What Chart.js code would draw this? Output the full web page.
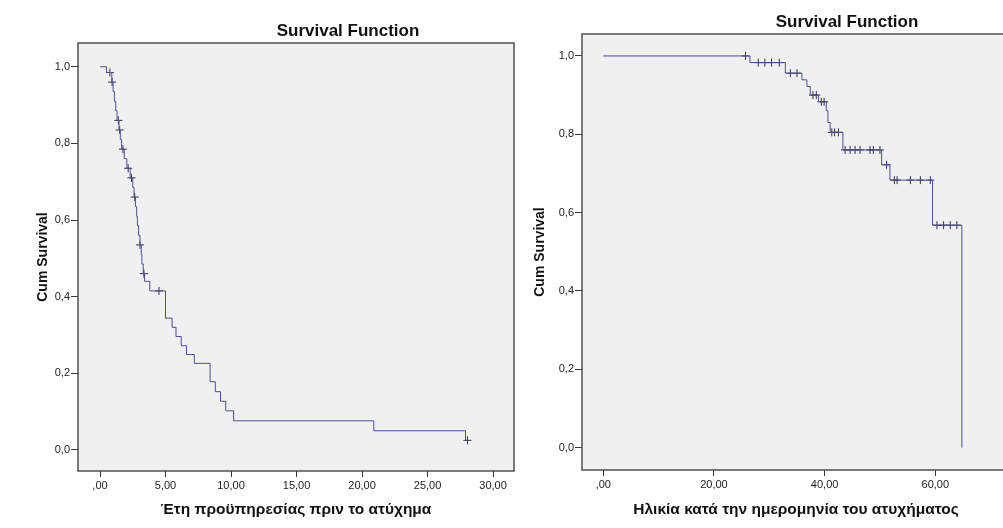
<!DOCTYPE html>
<html>
<head>
<meta charset="utf-8">
<title>Survival Function</title>
<script src="https://cdn.jsdelivr.net/npm/chart.js@4.4.1/dist/chart.umd.min.js"></script>
<style>
    html, body { margin: 0; padding: 0; background: #fff; overflow: hidden; }
    #wrap { position: relative; width: 1003px; height: 528px; overflow: hidden; }
    .box { position: absolute; top: 0; width: 540px; height: 528px; }
    #box-left { left: 0; }
    #box-right { left: 500px; }
</style>
</head>
<body>
<div id="wrap">
    <div class="box" id="box-left"><canvas id="chart-left"></canvas></div>
    <div class="box" id="box-right"><canvas id="chart-right"></canvas></div>
</div>
<script>
// left: years of service before the accident (event times + survival after each step)
const leftTimes = [0, 0.5, 0.9, 1.0, 1.1, 1.2, 1.3, 1.45, 1.55, 1.65, 1.85, 2.05, 2.3, 2.5, 2.6, 2.7, 2.8, 2.85, 2.95, 3.05,
                   3.15, 3.2, 3.3, 3.4, 3.8, 5.0, 5.5, 5.8, 6.2, 6.6, 7.2, 8.4, 8.8, 9.2, 9.6, 10.2, 20.9, 27.9, 28.05];
const leftSurv  = [1.0, 0.985, 0.96, 0.935, 0.91, 0.885, 0.86, 0.835, 0.81, 0.785, 0.76, 0.735, 0.71, 0.685, 0.66, 0.635, 0.61, 0.585, 0.56, 0.535,
                   0.51, 0.485, 0.46, 0.44, 0.415, 0.344, 0.32, 0.296, 0.272, 0.249, 0.226, 0.178, 0.152, 0.127, 0.102, 0.076, 0.05, 0.025, 0.025];
const leftCensorTimes = [0.75, 0.92, 1.4, 1.5, 1.75, 2.15, 2.4, 2.65, 3.05, 3.35, 4.5, 28.05];
const leftCensorSurv  = [0.985, 0.96, 0.86, 0.835, 0.785, 0.735, 0.71, 0.66, 0.535, 0.46, 0.415, 0.025];
const leftXTicks = [0, 5, 10, 15, 20, 25, 30];

// right: age at the date of the accident
const rightTimes = [0, 26.5, 32.9, 35.9, 36.8, 37.4, 38.9, 40.3, 40.6, 41.0, 43.3, 50.3, 51.8, 59.5, 64.8];
const rightSurv  = [1.0, 0.983, 0.956, 0.939, 0.922, 0.90, 0.883, 0.86, 0.83, 0.805, 0.76, 0.722, 0.683, 0.568, 0.0];
const rightCensorTimes = [25.7, 28.0, 29.2, 30.4, 31.8, 33.8, 35.0, 37.9, 38.5, 39.4, 39.9, 41.3, 41.8, 42.5,
                          43.7, 44.6, 45.5, 46.4, 48.2, 48.8, 50.0, 51.2, 52.6, 53.1, 55.5, 57.3, 59.1, 60.3, 61.5, 62.7, 63.9];
const rightCensorSurv  = [1.0, 0.983, 0.983, 0.983, 0.983, 0.956, 0.956, 0.90, 0.90, 0.883, 0.883, 0.805, 0.805, 0.805,
                          0.76, 0.76, 0.76, 0.76, 0.76, 0.76, 0.76, 0.722, 0.683, 0.683, 0.683, 0.683, 0.683, 0.568, 0.568, 0.568, 0.568];
const rightXTicks = [0, 20, 40, 60];

const yTicks = [0, 0.2, 0.4, 0.6, 0.8, 1.0];

const FONT = "'Liberation Sans', Arial, sans-serif";

// plot background, frame and the chart title
const framePlugin = {
    id: 'frame',
    beforeDraw(chart, args, opts) {
        const a = chart.chartArea, ctx = chart.ctx;
        ctx.save();
        ctx.fillStyle = '#f0f0f0';
        ctx.fillRect(a.left, a.top, a.right - a.left, a.bottom - a.top);
        ctx.restore();
    },
    afterDraw(chart, args, opts) {
        const a = chart.chartArea, ctx = chart.ctx;
        ctx.save();
        ctx.strokeStyle = '#505050';
        ctx.lineWidth = 1.5;
        ctx.strokeRect(a.left, a.top, a.right - a.left, a.bottom - a.top);
        ctx.fillStyle = '#111';
        ctx.font = 'bold 17px ' + FONT;
        ctx.textAlign = 'center';
        ctx.textBaseline = 'alphabetic';
        ctx.fillText(opts.text, opts.x, opts.y);
        ctx.restore();
    }
};

function fmtX(v) {
    let s = v.toFixed(2).replace('.', ',');
    if (s.indexOf('0,') === 0) s = s.substring(1);
    return s;
}

function makeChart(id, o) {
    const line = o.times.map((t, i) => ({x: t, y: o.surv[i]}));
    const marks = o.censorTimes.map((t, i) => ({x: t, y: o.censorSurv[i]}));
    return new Chart(document.getElementById(id), {
        type: 'scatter',
        data: {
            datasets: [{
                data: line,
                showLine: true,
                stepped: true,
                borderColor: '#4c4ca0',
                borderWidth: 1,
                pointRadius: 0,
                fill: false
            }, {
                data: marks,
                showLine: false,
                pointStyle: 'cross',
                pointRadius: 4,
                borderWidth: 1,
                borderColor: '#33334f'
            }]
        },
        options: {
            responsive: true,
            maintainAspectRatio: false,
            animation: false,
            layout: {padding: {top: o.top, right: o.right, bottom: 0, left: 0}},
            plugins: {
                legend: {display: false},
                tooltip: {enabled: false},
                frame: {text: 'Survival Function', x: o.titleX, y: o.titleY}
            },
            scales: {
                x: {
                    type: 'linear',
                    min: o.xMin,
                    max: o.xMax,
                    afterFit(s) { s.height = o.xHeight; },
                    afterBuildTicks(s) { s.ticks = o.xTicks.map(v => ({value: v})); },
                    grid: {drawOnChartArea: false, drawTicks: true, tickLength: 6, color: '#333'},
                    border: {display: false},
                    ticks: {
                        padding: 2,
                        color: '#222',
                        font: {family: FONT, size: 11},
                        maxRotation: 0,
                        callback: v => fmtX(v)
                    },
                    title: {
                        display: true,
                        text: o.xTitle,
                        color: '#111',
                        font: {family: FONT, size: 15.5, weight: 'bold'},
                        padding: {top: 0, bottom: 9}
                    }
                },
                y: {
                    type: 'linear',
                    min: o.yMin,
                    max: o.yMax,
                    afterFit(s) { s.width = o.yWidth; },
                    afterBuildTicks(s) { s.ticks = yTicks.map(v => ({value: v})); },
                    grid: {drawOnChartArea: false, drawTicks: true, tickLength: 7, color: '#333'},
                    border: {display: false},
                    ticks: {
                        padding: 1,
                        color: '#222',
                        font: {family: FONT, size: 11},
                        callback: v => v.toFixed(1).replace('.', ',')
                    },
                    title: {
                        display: true,
                        text: 'Cum Survival',
                        color: '#111',
                        font: {family: FONT, size: 14, weight: 'bold'},
                        padding: {top: o.yTitlePad, bottom: 0}
                    }
                }
            }
        },
        plugins: [framePlugin]
    });
}

makeChart('chart-left', {
    times: leftTimes, surv: leftSurv,
    censorTimes: leftCensorTimes, censorSurv: leftCensorSurv,
    xTicks: leftXTicks, xMin: -1.68, xMax: 31.6, yMin: -0.055, yMax: 1.062,
    top: 43, right: 26, xHeight: 57, yWidth: 78, yTitlePad: 35,
    titleX: 348, titleY: 36,
    xTitle: 'Έτη προϋπηρεσίας πριν το ατύχημα'
});

makeChart('chart-right', {
    times: rightTimes, surv: rightSurv,
    censorTimes: rightCensorTimes, censorSurv: rightCensorSurv,
    xTicks: rightXTicks, xMin: -3.85, xMax: 73.5, yMin: -0.057, yMax: 1.056,
    top: 34, right: 30, xHeight: 58, yWidth: 82, yTitlePad: 32,
    titleX: 347, titleY: 27,
    xTitle: 'Ηλικία κατά την ημερομηνία του ατυχήματος'
});
</script>
</body>
</html>
